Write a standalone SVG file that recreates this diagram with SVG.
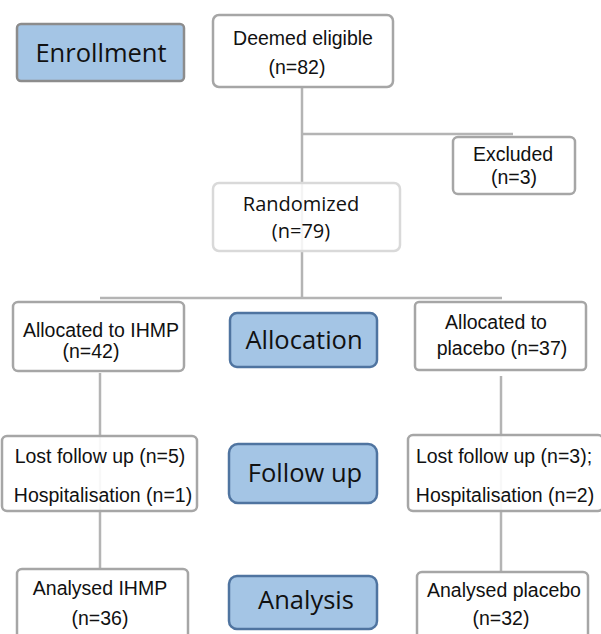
<svg xmlns="http://www.w3.org/2000/svg" width="601" height="634" viewBox="0 0 601 634">
<style>
.bx{fill:#fff;fill-opacity:0.9;stroke:#a6a6a6;stroke-width:2.5}
.st{fill:#a4c5e5;stroke:#4f74a0;stroke-width:2.5}
.t{font-family:"Liberation Sans",Arial,sans-serif;font-size:19.5px;fill:#111;text-anchor:middle}
.c{font-family:"Open Sans","Noto Sans",sans-serif;fill:#111;text-anchor:middle}
.s{font-family:"Open Sans","Noto Sans",sans-serif;font-size:25.5px;fill:#111;text-anchor:middle}
.ln{stroke:#b4b4b4;stroke-width:2.5;fill:none}
</style>
<rect width="601" height="634" fill="#fff"/>
<g id="connectors">
<path class="ln" d="M302 87V298"/>
<path class="ln" d="M302 134H513"/>
<path class="ln" d="M100 298H502"/>
<path class="ln" d="M100 373V569"/>
<path class="ln" d="M501 376V572"/>
</g>
<g id="enrollment">
<rect x="17" y="24" width="167" height="57" rx="4" fill="#a4c5e5" stroke="#8c8c8c" stroke-width="2.5"/>
<text class="s" x="101" y="62" font-size="26">Enrollment</text>
</g>
<g id="eligible">
<rect class="bx" x="213" y="15" width="180" height="72" rx="6"/>
<text class="t" x="303" y="45" font-size="21.5">Deemed eligible</text>
<text class="t" x="297" y="74" font-size="21.5">(n=82)</text>
</g>
<g id="excluded">
<rect class="bx" x="453" y="137" width="122" height="57" rx="5"/>
<text class="t" x="513" y="161">Excluded</text>
<text class="t" x="514" y="184">(n=3)</text>
</g>
<g id="randomized">
<rect x="213" y="183" width="187" height="68" rx="6" fill="#fff" fill-opacity="0.85" stroke="#d9d9d9" stroke-width="2.5"/>
<text class="c" x="301" y="211" font-size="20">Randomized</text>
<text class="c" x="301" y="238" font-size="20">(n=79)</text>
</g>
<g id="ihmp">
<rect class="bx" x="13" y="302" width="171" height="69" rx="5"/>
<text class="t" x="101" y="337" font-size="18.5">Allocated to IHMP</text>
<text class="t" x="91" y="358" font-size="18.5">(n=42)</text>
</g>
<g id="allocation">
<rect class="st" x="230" y="313" width="147" height="54" rx="7"/>
<text class="s" x="304" y="349" font-size="26">Allocation</text>
</g>
<g id="placebo">
<rect class="bx" x="415" y="302" width="171" height="68" rx="4"/>
<text class="t" x="496" y="329" font-size="18.5">Allocated to</text>
<text class="t" x="502" y="355" font-size="18.5">placebo (n=37)</text>
</g>
<g id="lost-ihmp">
<rect class="bx" x="2" y="436" width="195" height="75" rx="5"/>
<text class="t" x="100" y="463">Lost follow up (n=5)</text>
<text class="t" x="103" y="502">Hospitalisation (n=1)</text>
</g>
<g id="followup">
<rect class="st" x="229" y="444" width="148" height="59" rx="9"/>
<text class="s" x="305" y="482">Follow up</text>
</g>
<g id="lost-placebo">
<rect class="bx" x="408" y="435" width="195" height="76" rx="5"/>
<text class="t" x="504" y="463">Lost follow up (n=3);</text>
<text class="t" x="505" y="502">Hospitalisation (n=2)</text>
</g>
<g id="analysed-ihmp">
<rect class="bx" x="17" y="569" width="171" height="75" rx="5"/>
<text class="t" x="100" y="595">Analysed IHMP</text>
<text class="t" x="100" y="625">(n=36)</text>
</g>
<g id="analysis">
<rect class="st" x="229" y="576" width="148" height="53" rx="8"/>
<text class="s" x="306" y="609">Analysis</text>
</g>
<g id="analysed-placebo">
<rect class="bx" x="417" y="572" width="171" height="75" rx="5"/>
<text class="t" x="504" y="597">Analysed placebo</text>
<text class="t" x="501" y="625">(n=32)</text>
</g>
</svg>
